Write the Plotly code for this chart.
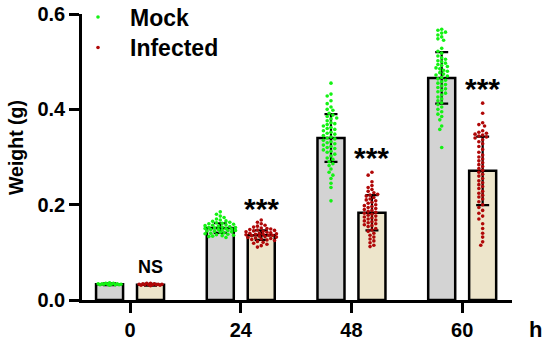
import numpy as np
import plotly.graph_objects as go

# ---------------- data ----------------
hours = ["0", "24", "48", "60"]
mock_mean = [0.033, 0.151, 0.340, 0.466]
mock_sd = [0.002, 0.010, 0.050, 0.054]
inf_mean = [0.032, 0.136, 0.183, 0.271]
inf_sd = [0.002, 0.010, 0.037, 0.072]
signif = ["NS", "***", "***", "***"]
signif_y = [0.069, 0.193, 0.300, 0.444]
y_ticks = [0.0, 0.2, 0.4, 0.6]
y_ticklabels = ["0.0", "0.2", "0.4", "0.6"]

mock_0 = [0.036, 0.035, 0.035, 0.034, 0.034, 0.034, 0.033, 0.033, 0.033, 0.033,
          0.032, 0.032, 0.032, 0.031]
inf_0 = [0.035, 0.035, 0.034, 0.034, 0.033, 0.033, 0.033, 0.032, 0.032, 0.032,
         0.032, 0.031, 0.031, 0.030]
mock_24 = [0.185, 0.180, 0.176, 0.173, 0.170, 0.168, 0.166, 0.165, 0.163, 0.162,
           0.161, 0.160, 0.159, 0.158, 0.157, 0.156, 0.155, 0.154, 0.153, 0.152,
           0.152, 0.151, 0.150, 0.150, 0.149, 0.148, 0.148, 0.147, 0.146, 0.146,
           0.145, 0.144, 0.143, 0.142, 0.141, 0.140, 0.139, 0.138, 0.137, 0.136,
           0.135, 0.134, 0.133, 0.131]
inf_24 = [0.168, 0.163, 0.160, 0.157, 0.155, 0.153, 0.151, 0.150, 0.149, 0.148,
          0.147, 0.146, 0.145, 0.144, 0.143, 0.142, 0.141, 0.140, 0.140, 0.139,
          0.138, 0.138, 0.137, 0.136, 0.136, 0.135, 0.134, 0.133, 0.132, 0.131,
          0.130, 0.129, 0.128, 0.127, 0.126, 0.125, 0.123, 0.121, 0.119, 0.117,
          0.114, 0.111]
mock_48 = [0.455, 0.432, 0.428, 0.418, 0.412, 0.405, 0.400, 0.398, 0.392, 0.388,
           0.385, 0.382, 0.380, 0.376, 0.372, 0.370, 0.368, 0.365, 0.362, 0.360,
           0.358, 0.355, 0.352, 0.350, 0.348, 0.345, 0.342, 0.340, 0.338, 0.335,
           0.332, 0.330, 0.328, 0.325, 0.322, 0.320, 0.318, 0.315, 0.312, 0.310,
           0.306, 0.302, 0.298, 0.295, 0.290, 0.286, 0.282, 0.275, 0.268, 0.262,
           0.255, 0.245, 0.236, 0.208]
inf_48 = [0.268, 0.262, 0.248, 0.240, 0.236, 0.232, 0.228, 0.225, 0.222, 0.220,
          0.218, 0.215, 0.212, 0.210, 0.208, 0.205, 0.203, 0.200, 0.198, 0.196,
          0.194, 0.192, 0.190, 0.188, 0.186, 0.184, 0.182, 0.180, 0.178, 0.176,
          0.174, 0.172, 0.170, 0.168, 0.166, 0.164, 0.162, 0.160, 0.158, 0.156,
          0.154, 0.150, 0.147, 0.144, 0.140, 0.136, 0.132, 0.128, 0.124, 0.120,
          0.115, 0.112]
mock_60 = [0.568, 0.566, 0.562, 0.560, 0.556, 0.552, 0.548, 0.545, 0.528, 0.522,
           0.518, 0.512, 0.508, 0.505, 0.502, 0.500, 0.497, 0.494, 0.492, 0.490,
           0.487, 0.485, 0.482, 0.480, 0.477, 0.474, 0.472, 0.470, 0.467, 0.464,
           0.461, 0.458, 0.455, 0.452, 0.449, 0.446, 0.443, 0.440, 0.437, 0.434,
           0.430, 0.426, 0.422, 0.418, 0.414, 0.410, 0.405, 0.400, 0.395, 0.390,
           0.385, 0.378, 0.365, 0.358, 0.320]
inf_60 = [0.413, 0.392, 0.372, 0.368, 0.365, 0.355, 0.352, 0.350, 0.348, 0.346,
          0.344, 0.342, 0.340, 0.336, 0.332, 0.328, 0.322, 0.316, 0.310, 0.304,
          0.300, 0.296, 0.292, 0.288, 0.284, 0.280, 0.276, 0.272, 0.268, 0.264,
          0.260, 0.255, 0.250, 0.246, 0.242, 0.238, 0.234, 0.228, 0.224, 0.220,
          0.216, 0.212, 0.206, 0.200, 0.194, 0.188, 0.182, 0.176, 0.170, 0.160,
          0.150, 0.140, 0.132, 0.122, 0.115]

mock_points = [mock_0, mock_24, mock_48, mock_60]
inf_points = [inf_0, inf_24, inf_48, inf_60]

# ---------------- layout constants (screen px; page body margin removed) ----------------
W, H = 550, 348
PL, PR, PT, PB = 82, 512, 14, 300            # plot area on screen
ML, MT = PL, PT
MR, MB = W - PR, H - PB
XR = [-0.434, 3.45]
YR = [0, 0.6001]
PX_X = (PR - PL) / (XR[1] - XR[0])
PX_Y = (PB - PT) / (YR[1] - YR[0])
OFF = 0.185
BW = 0.244
GREEN = "#14f214"
RED = "#b00808"
FONT = "Liberation Sans, Arial, sans-serif"


def px(sx):
    return (sx - PL) / (PR - PL)


def py(sy):
    return (PB - sy) / (PB - PT)


def swarm(vals, center, d=3.8, step=1.9, maxw=14.0):
    """Beeswarm layout: horizontal offsets so markers overlap as little as possible."""
    vals = np.asarray(vals, float)
    order = np.argsort(-vals)
    placed = []
    xs = np.zeros(len(vals))
    nmax = int(maxw // step)
    cands = [0.0]
    for j in range(1, nmax + 1):
        cands += [-j * step, j * step]
    for i in order:
        y = vals[i] * PX_Y
        best, best_d = 0.0, -1.0
        for off in cands:
            md = min([np.hypot(off - a, y - b) for a, b in placed] or [1e9])
            if md >= d:
                best = off
                break
            if md > best_d:
                best, best_d = off, md
        placed.append((best, y))
        xs[i] = center + best / PX_X
    return xs


xi = np.arange(len(hours))
fig = go.Figure()

fig.add_trace(go.Bar(x=xi - OFF, y=mock_mean, width=BW,
                     marker=dict(color="#d3d3d3", line=dict(color="black", width=2.5)),
                     error_y=dict(type="data", array=mock_sd, color="black", thickness=2.2, width=6.5),
                     showlegend=False, hoverinfo="skip"))
fig.add_trace(go.Bar(x=xi + OFF, y=inf_mean, width=BW,
                     marker=dict(color="#ede5cb", line=dict(color="black", width=2.5)),
                     error_y=dict(type="data", array=inf_sd, color="black", thickness=2.2, width=6.5),
                     showlegend=False, hoverinfo="skip"))

mx, my, ix, iy = [], [], [], []
for k in range(len(hours)):
    mw = 13.0 if k == 0 else 16.0
    mx += list(swarm(mock_points[k], k - OFF, maxw=mw))
    my += list(mock_points[k])
    ix += list(swarm(inf_points[k], k + OFF, maxw=mw))
    iy += list(inf_points[k])

fig.add_trace(go.Scatter(x=mx, y=my, mode="markers", name="<b>Mock</b>", legend="legend",
                         marker=dict(color=GREEN, size=3.6, line=dict(width=0))))
fig.add_trace(go.Scatter(x=ix, y=iy, mode="markers", name="<b>Infected</b>", legend="legend2",
                         marker=dict(color=RED, size=3.6, line=dict(width=0))))

for k in range(len(hours)):
    txt = signif[k]
    fig.add_annotation(x=k + OFF, y=signif_y[k], text=f"<b>{txt}</b>", showarrow=False,
                       font=dict(size=18 if txt == "NS" else 30, color="black", family=FONT),
                       xanchor="center", yanchor="middle")

fig.add_annotation(xref="paper", yref="paper", x=px(535), y=py(329), xanchor="center", yanchor="middle",
                   text="<b>h</b>", showarrow=False, font=dict(size=22, color="black", family=FONT))
fig.add_annotation(xref="paper", yref="paper", x=px(16), y=py(148), textangle=-90,
                   xanchor="center", yanchor="middle",
                   text="<b>Weight (g)</b>", showarrow=False, font=dict(size=19.5, color="black", family=FONT))

IW = 54
leg_common = dict(xanchor="left", yanchor="middle", itemwidth=IW, bgcolor="rgba(0,0,0,0)",
                  font=dict(size=23, color="black", family=FONT))
fig.update_layout(
    width=W, height=H,
    margin=dict(l=ML, r=MR, t=MT, b=MB, autoexpand=False),
    plot_bgcolor="white", paper_bgcolor="white",
    barmode="overlay",
    showlegend=True,
    legend=dict(x=px(98 - (IW / 2 + 5)), y=py(17), **leg_common),
    legend2=dict(x=px(98 - (IW / 2 + 5)), y=py(47.5), **leg_common),
    font=dict(family=FONT, color="black"),
)
fig.update_xaxes(range=XR, tickvals=list(xi), ticktext=[f"<b>{h}</b>" for h in hours],
                 showline=True, linecolor="black", linewidth=2.5, ticks="outside", ticklen=10, tickwidth=2.5,
                 tickcolor="black", tickfont=dict(size=20, family=FONT), showgrid=False, zeroline=False,
                 ticklabeloverflow="allow")
fig.update_yaxes(range=YR, tickvals=y_ticks, ticktext=[f"<b>{t}</b>" for t in y_ticklabels],
                 showline=True, linecolor="black", linewidth=2.5, ticks="outside", ticklen=10, tickwidth=2.5,
                 tickcolor="black", tickfont=dict(size=20, family=FONT), showgrid=False, zeroline=False,
                 ticklabeloverflow="allow")

fig.write_html("out.html", config={"displayModeBar": False},
               post_script="document.body.style.margin='0px';")
